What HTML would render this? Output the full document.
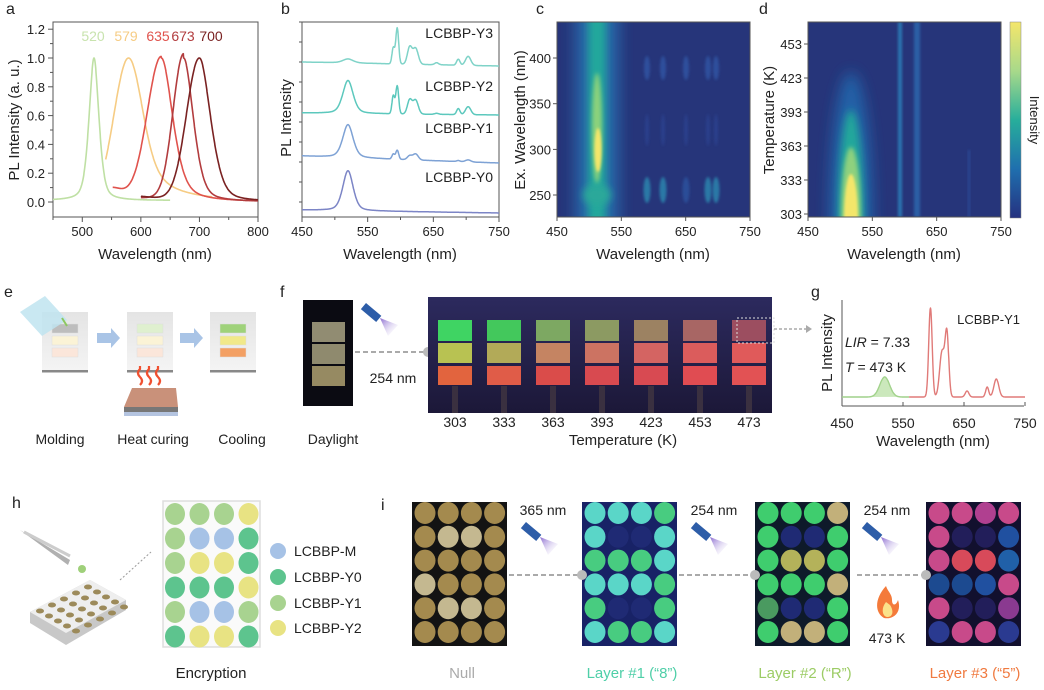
<!DOCTYPE html>
<html><head><meta charset="utf-8"><style>
html,body{margin:0;padding:0;background:#fff;}
svg{display:block;font-family:"Liberation Sans",Arial,sans-serif;}
</style></head><body>
<svg id="s" width="1044" height="690" viewBox="0 0 1044 690" xmlns="http://www.w3.org/2000/svg">
<defs>
<filter id="b2" x="-50%" y="-50%" width="200%" height="200%"><feGaussianBlur stdDeviation="2"/></filter>
<filter id="b4" x="-50%" y="-50%" width="200%" height="200%"><feGaussianBlur stdDeviation="4"/></filter>
<filter id="b7" x="-50%" y="-50%" width="200%" height="200%"><feGaussianBlur stdDeviation="7"/></filter>
<filter id="b1" x="-50%" y="-50%" width="200%" height="200%"><feGaussianBlur stdDeviation="1.2"/></filter>
<clipPath id="cc"><rect x="557" y="22" width="193" height="195"/></clipPath>
<clipPath id="cd"><rect x="808" y="22" width="193" height="195"/></clipPath>
<linearGradient id="cb" x1="0" y1="0" x2="0" y2="1">
<stop offset="0" stop-color="#f4e66b"/><stop offset="0.25" stop-color="#a8d98a"/><stop offset="0.5" stop-color="#27ae9b"/><stop offset="0.75" stop-color="#1f6fae"/><stop offset="1" stop-color="#253180"/></linearGradient>
<linearGradient id="beam" x1="0" y1="0" x2="1" y2="1"><stop offset="0" stop-color="#8a6ad0"/><stop offset="1" stop-color="#ffffff" stop-opacity="0"/></linearGradient>
<linearGradient id="fph" x1="0" y1="0" x2="0" y2="1"><stop offset="0" stop-color="#2c2a5e"/><stop offset="1" stop-color="#1c1838"/></linearGradient>
<linearGradient id="sl" x1="0" y1="0" x2="0" y2="1"><stop offset="0" stop-color="#e4e4e4"/><stop offset="1" stop-color="#f4f4f4"/></linearGradient>
</defs>
<g id="root" font-size="13" fill="#222"></g>
</svg>
<script>
const NS="http://www.w3.org/2000/svg";const R=document.getElementById('root');
function el(t,a,p){const e=document.createElementNS(NS,t);for(const k in a)e.setAttribute(k,a[k]);(p||R).appendChild(e);return e;}
function tx(x,y,s,a){a=a||{};a.x=x;a.y=y;const e=el('text',a);e.textContent=s;return e;}
function path(f,n0,n1,X,Y,col,w){let d='';for(let n=n0;n<=n1;n+=0.5){d+=(d?'L':'M')+X(n).toFixed(1)+','+Y(f(n)).toFixed(1);}el('path',{d:d,fill:'none',stroke:col,'stroke-width':w||1.6,'stroke-linejoin':'round'});}
const G=(n,c,s)=>Math.exp(-(n-c)*(n-c)/(2*s*s));const L=(n,c,g)=>1/(1+((n-c)/g)**2);
function box(x0,y0,x1,y1){el('rect',{x:x0,y:y0,width:x1-x0,height:y1-y0,fill:'none',stroke:'#555','stroke-width':1});}
// ===== panel a
tx(6,14,'a',{'font-size':16});
{const X=n=>53+(n-450)*205/350,Y=v=>202-v*144;
box(53,22,258,217);
for(let n=450;n<=800;n+=50){el('line',{x1:X(n),y1:217,x2:X(n),y2:n%100?220:222,stroke:'#555'});if(n%100==0)tx(X(n),236,n,{'text-anchor':'middle'});}
for(let v=0;v<=1.25;v+=0.1){const y=Y(v);const maj=Math.round(v*10)%2==0;el('line',{x1:53,y1:y,x2:maj?48:50,y2:y,stroke:'#555'});if(maj)tx(45,y+5,v.toFixed(1),{'text-anchor':'end'});}
tx(155,259,'Wavelength (nm)',{'text-anchor':'middle','font-size':15});
tx(0,0,'PL Intensity (a. u.)',{'text-anchor':'middle','font-size':15,transform:'translate(19,120) rotate(-90)'});
path(n=>0.01+0.99*(0.5*G(n,520,9)+0.5*L(n,520,9)),450,650,X,Y,'#bfe0a4');
path(n=>n<579?G(n,579,25):(0.6*G(n,579,22)+0.4*L(n,579,45)),540,722,X,Y,'#f6cc84');
path(n=>n<635?(G(n,635,24)+0.1*L(n,550,30)):(0.5*G(n,635,20)+0.5*L(n,635,22)),552,800,X,Y,'#e0534d');
path(n=>n<673?(G(n,673,18)+0.03):(0.6*G(n,673,17)+0.4*L(n,673,18)),600,800,X,Y,'#b23c3e');
path(n=>n<700?(G(n,700,22)+0.04*(1-(n-600)/100)):(0.6*G(n,700,20)+0.4*L(n,700,20)),600,800,X,Y,'#7a2222');
const lb=[['520',93,'#c8e3ae'],['579',126,'#f6cc84'],['635',158,'#e0534d'],['673',183,'#b23c3e'],['700',211,'#7a2222']];
lb.forEach(l=>tx(l[1],41,l[0],{'text-anchor':'middle','font-size':14,fill:l[2]}));}
// ===== panel b
tx(281,14,'b',{'font-size':16});
{const X=n=>302+(n-450)*197/300;box(302,22,499,217);
for(let n=450;n<=750;n+=50){el('line',{x1:X(n),y1:217,x2:X(n),y2:n%100==50?222:220,stroke:'#555'});if(n%100==50)tx(X(n),236,n,{'text-anchor':'middle'});}
for(let y=22;y<=217;y+=20)el('line',{x1:302,y1:y,x2:299,y2:y,stroke:'#555'});
tx(400,259,'Wavelength (nm)',{'text-anchor':'middle','font-size':15});
tx(0,0,'PL Intensity',{'text-anchor':'middle','font-size':15,transform:'translate(291,118) rotate(-90)'});
const red=(n,a)=>a[0]*G(n,589,2)+a[1]*G(n,595,2.2)+a[2]*G(n,614,3.5)+a[3]*G(n,623,4)+a[4]*G(n,655,3)+a[5]*G(n,688,2.5)+a[6]*G(n,703,4);
const S=[[62,66,4,[16,36,17,16,2,6,9],'#7fd3c8','LCBBP-Y3',38],[113,115,33,[18,28,14,14,1,6,8],'#5cc8bd','LCBBP-Y2',91],[156,163,33,[5,9,4,6,0,1,2],'#7ea2d5','LCBBP-Y1',133],[210,213,40,[0,0,0,0,0,0,0],'#7c85c6','LCBBP-Y0',182]];
S.forEach(s=>{path(n=>s[0]+(s[1]-s[0])*(n-450)/300-s[2]*(0.6*G(n,520,8)+0.4*L(n,520,9))-red(n,s[3]),450,750,X,v=>v,s[4],1.5);tx(493,s[6],s[5],{'text-anchor':'end','font-size':14});});}
// ===== panel c heatmap
tx(536,14,'c',{'font-size':16});
{const g=el('g',{'clip-path':'url(#cc)'});el('rect',{x:557,y:22,width:193,height:195,fill:'#26357a'},g);
el('rect',{x:575,y:0,width:44,height:240,fill:'#2566a8',filter:'url(#b7)'},g);
el('rect',{x:588,y:0,width:18,height:240,fill:'#24a89b',filter:'url(#b4)'},g);
el('ellipse',{cx:597,cy:195,rx:14,ry:10,fill:'#2aa89a',filter:'url(#b4)'},g);
el('ellipse',{cx:597,cy:128,rx:5,ry:55,fill:'#8cd27c',filter:'url(#b2)'},g);
el('ellipse',{cx:598,cy:150,rx:3.5,ry:22,fill:'#f4e66b',filter:'url(#b1)'},g);
[647,663,686,708,716].forEach((x,i)=>{el('ellipse',{cx:x,cy:68,rx:3,ry:12,fill:'#2d4f9c',filter:'url(#b1)'},g);el('ellipse',{cx:x,cy:130,rx:2,ry:16,fill:'#2a3f8c',filter:'url(#b1)'},g);el('ellipse',{cx:x,cy:190,rx:3.5,ry:13,fill:i==2?'#2b4e98':'#2a78a6',filter:'url(#b1)'},g);});
box(557,22,750,217);
[[400,58],[350,103.7],[300,149.4],[250,195]].forEach(t=>{el('line',{x1:557,y1:t[1],x2:553,y2:t[1],stroke:'#555'});tx(551,t[1]+5,t[0],{'text-anchor':'end'});});
[450,550,650,750].forEach((n,i)=>{const x=557+(n-450)*193/300;el('line',{x1:x,y1:217,x2:x,y2:221,stroke:'#555'});tx(x,236,n,{'text-anchor':'middle'});});
tx(653,259,'Wavelength (nm)',{'text-anchor':'middle','font-size':15});
tx(0,0,'Ex. Wavelength (nm)',{'text-anchor':'middle','font-size':15,transform:'translate(525,120) rotate(-90)'});}
// ===== panel d heatmap
tx(759,14,'d',{'font-size':16});
{const g=el('g',{'clip-path':'url(#cd)'});el('rect',{x:808,y:22,width:193,height:195,fill:'#26357a'},g);
el('ellipse',{cx:851,cy:222,rx:22,ry:150,fill:'#2362a8',filter:'url(#b7)'},g);
el('ellipse',{cx:851,cy:222,rx:13,ry:112,fill:'#23a89b',filter:'url(#b4)'},g);
el('ellipse',{cx:851,cy:222,rx:10,ry:75,fill:'#8fd17e',filter:'url(#b2)'},g);
el('ellipse',{cx:851,cy:222,rx:7,ry:48,fill:'#f4e66b',filter:'url(#b1)'},g);
el('rect',{x:898,y:22,width:4,height:195,fill:'#2b75b0',filter:'url(#b1)'},g);
el('rect',{x:914,y:22,width:6,height:195,fill:'#2c5ea6',filter:'url(#b1)'},g);
el('rect',{x:968,y:150,width:2,height:67,fill:'#2c4a96',filter:'url(#b1)'},g);
box(808,22,1001,217);
[453,423,393,363,333,303].forEach(t=>{const y=214-(t-303)*1.1333;el('line',{x1:808,y1:y,x2:804,y2:y,stroke:'#555'});tx(802,y+5,t,{'text-anchor':'end'});});
[450,550,650,750].forEach(n=>{const x=808+(n-450)*193/300;el('line',{x1:x,y1:217,x2:x,y2:221,stroke:'#555'});tx(x,236,n,{'text-anchor':'middle'});});
tx(904,259,'Wavelength (nm)',{'text-anchor':'middle','font-size':15});
tx(0,0,'Temperature (K)',{'text-anchor':'middle','font-size':15,transform:'translate(774,120) rotate(-90)'});
el('rect',{x:1010,y:22,width:11,height:196,fill:'url(#cb)',stroke:'#888','stroke-width':0.5});
tx(0,0,'Intensity',{'text-anchor':'middle','font-size':13,transform:'translate(1030,120) rotate(90)'});}
// ===== panel e
tx(4,297,'e',{'font-size':16});
function slide(x,cols){el('rect',{x:x,y:312,width:46,height:58,fill:'url(#sl)'});el('rect',{x:x,y:370,width:46,height:2.5,fill:'#888'});cols.forEach((c,i)=>el('rect',{x:x+10,y:324+i*12,width:26,height:9,fill:c,stroke:'#ddd','stroke-width':0.5}));}
slide(42,['#bdbdbd','#fbf3d6','#fbe6da']);slide(127,['#dff0cf','#fbf3d6','#fbe6da']);slide(210,['#9fd27a','#f1e98a','#f3a064']);
el('polygon',{points:'20,312 45,296 67,320 42,336',fill:'#bfe4f0',opacity:0.85});
el('path',{d:'M62,318 L67,326',stroke:'#8cc860','stroke-width':2});
[[97,338],[180,338]].forEach(a=>el('polygon',{points:`${a[0]},${a[1]-5} ${a[0]+14},${a[1]-5} ${a[0]+14},${a[1]-10} ${a[0]+23},${a[1]} ${a[0]+14},${a[1]+10} ${a[0]+14},${a[1]+5} ${a[0]},${a[1]+5}`,fill:'#a9c4e6'}));
el('polygon',{points:'132,388 176,388 178,407 124,407',fill:'#c9917a'});el('rect',{x:124,y:407,width:54,height:5,fill:'#777'});el('rect',{x:124,y:412,width:54,height:4,fill:'#b4c4e0'});
[140,149,158].forEach(x=>el('path',{d:`M${x},385 q4,-4 0,-8 q-4,-4 0,-8 l0,-3`,stroke:'#f05030','stroke-width':2.2,fill:'none'}));
tx(60,444,'Molding',{'text-anchor':'middle','font-size':14});tx(153,444,'Heat curing',{'text-anchor':'middle','font-size':14});tx(242,444,'Cooling',{'text-anchor':'middle','font-size':14});
// ===== panel f
tx(280,297,'f',{'font-size':16});
el('rect',{x:303,y:300,width:50,height:106,fill:'#0b0b12'});
['#918c72','#8f8a6e','#968a62'].forEach((c,i)=>el('rect',{x:312,y:322+i*22,width:33,height:20,fill:c}));
tx(333,444,'Daylight',{'text-anchor':'middle','font-size':14});
function lamp(x,y){el('rect',{x:x,y:y,width:20,height:8,fill:'#2d5da8',transform:`rotate(40 ${x} ${y})`});el('polygon',{points:`${x+14},${y+15} ${x+32},${y+22} ${x+22},${y+33}`,fill:'url(#beam)'});}
lamp(366,303);
el('line',{x1:355,y1:352,x2:425,y2:352,stroke:'#aaa','stroke-width':2,'stroke-dasharray':'5,3'});el('circle',{cx:428,cy:352,r:5,fill:'#bbb'});
tx(393,383,'254 nm',{'text-anchor':'middle','font-size':14});
el('rect',{x:428,y:297,width:344,height:116,fill:'url(#fph)'});
const F=[['#3fd463','#43c85c','#7da862','#8c9a62','#9c8262','#a86664','#9c4e60'],['#b8c252','#b2aa58','#c58462','#cc7362','#d46462','#db5c5c','#e05a5a'],['#e2643e','#e05c48','#da4c4a','#d84a50','#d84a52','#e04c52','#e25254']];
[303,333,363,393,423,453,473].forEach((t,i)=>{const cx=455+i*49;for(let r=0;r<3;r++)el('rect',{x:cx-17,y:[320,343,366][r],width:34,height:[21,20,19][r],fill:F[r][i]});el('rect',{x:cx-3,y:386,width:6,height:27,fill:'#3a3040'});tx(cx,427,t,{'text-anchor':'middle','font-size':14});});
el('rect',{x:737,y:318,width:37,height:25,fill:'none',stroke:'#ddd','stroke-dasharray':'2,2'});
el('line',{x1:774,y1:329,x2:806,y2:329,stroke:'#aaa','stroke-width':1.5,'stroke-dasharray':'3,2'});el('polygon',{points:'806,325 812,329 806,333',fill:'#aaa'});
tx(623,445,'Temperature (K)',{'text-anchor':'middle','font-size':15});
// ===== panel g
tx(811,297,'g',{'font-size':16});
{const X=n=>842+(n-450)*183/300;el('line',{x1:842,y1:300,x2:842,y2:406,stroke:'#555'});el('line',{x1:842,y1:406,x2:1024,y2:406,stroke:'#555'});
[450,550,650,750].forEach(n=>{tx(X(n),428,n,{'text-anchor':'middle','font-size':14});el('line',{x1:X(n),y1:406,x2:X(n),y2:402,stroke:'#555'});});
tx(933,446,'Wavelength (nm)',{'text-anchor':'middle','font-size':15});
tx(0,0,'PL Intensity',{'text-anchor':'middle','font-size':15,transform:'translate(832,353) rotate(-90)'});
tx(1020,324,'LCBBP-Y1',{'text-anchor':'end','font-size':13});
const li=tx(845,347,'',{'font-size':14});li.innerHTML='<tspan font-style="italic">LIR</tspan> = 7.33';
const tt=tx(845,372,'',{'font-size':14});tt.innerHTML='<tspan font-style="italic">T</tspan> = 473 K';
const f=n=>397-20*G(n,520,8)-89*G(n,595,2.8)-45*G(n,614,4)-62*G(n,622,3)-6*G(n,655,3)-10*G(n,688,2.5)-18*G(n,703,4);
path(f,450,560,X,v=>v,'#9fd08a',1.4);path(f,560,750,X,v=>v,'#e07a78',1.4);
let d='M'+X(495)+',397';for(let n=495;n<=545;n++)d+='L'+X(n)+','+f(n);d+='Z';el('path',{d:d,fill:'#a9d88f',opacity:0.6});}
// ===== panel h
tx(12,508,'h',{'font-size':16});
el('path',{d:'M30,612 L90,580 L126,600 L126,610 L66,645 L30,623 Z',fill:'#c8c8c8'});el('path',{d:'M30,612 L90,580 L126,600 L66,633 Z',fill:'#eee'});
for(let i=0;i<5;i++)for(let j=0;j<5;j++){el('ellipse',{cx:40+i*12+j*9,cy:611-i*6+j*5,rx:4,ry:2.5,fill:'#9c8a5a'});}
el('path',{d:'M20,530 L68,565 L70,560 Z',fill:'#b0b0b0'});el('path',{d:'M24,532 L70,556',stroke:'#ccc','stroke-width':3});el('circle',{cx:82,cy:569,r:4,fill:'#9fd07a'});
el('line',{x1:120,y1:580,x2:151,y2:552,stroke:'#999','stroke-dasharray':'2,2'});
el('rect',{x:163,y:501,width:97,height:146,fill:'#fafafa',stroke:'#ddd','stroke-width':1.5});
const cM='#a6c2e6',c0='#5dc48e',c1='#a8d390',c2='#e8e383';
const H=[[c1,c1,c1,c2],[c1,cM,cM,c0],[c1,c2,c2,c0],[c0,c0,c0,c2],[c1,cM,cM,c1],[c0,c2,c2,c0]];
H.forEach((r,i)=>r.forEach((c,j)=>el('ellipse',{cx:175+j*24.5,cy:514+i*24.5,rx:10,ry:11,fill:c})));
[[cM,'LCBBP-M',556],[c0,'LCBBP-Y0',582],[c1,'LCBBP-Y1',608],[c2,'LCBBP-Y2',633]].forEach(l=>{el('circle',{cx:278,cy:l[2]-5,r:8,fill:l[0]});tx(294,l[2],l[1],{'font-size':14});});
tx(211,678,'Encryption',{'text-anchor':'middle','font-size':15});
// ===== panel i
tx(381,510,'i',{'font-size':16});
function photo(x0,bg,grid){el('rect',{x:x0,y:502,width:95,height:144,fill:bg});grid.forEach((r,i)=>r.forEach((c,j)=>{if(c)el('ellipse',{cx:x0+13+j*23.2,cy:513+i*23.8,rx:10.5,ry:11,fill:c});}));}
const gd='#a48a4e',gl='#c4b890';
photo(412,'#131313',[[gd,gd,gd,gd],[gd,gl,gl,gd],[gd,gd,gd,gd],[gl,gd,gd,gd],[gd,gl,gl,gd],[gd,gd,gd,gd]]);
const T='#5ad6c8',Gg='#48cc80',N='#1f2a74';
photo(582,'#182266',[[T,T,T,Gg],[T,N,N,T],[Gg,Gg,Gg,T],[T,T,T,Gg],[Gg,N,N,Gg],[T,Gg,Gg,T]]);
const g2='#3fcd6e',y2='#b4b25a',b2='#c2b07a';
photo(755,'#0e1a2a',[[g2,g2,g2,b2],[g2,N,N,g2],[g2,y2,y2,g2],[g2,g2,g2,b2],['#4a9a60',N,N,g2],[g2,b2,b2,g2]]);
const P='#c84a8a',B='#1f3a86',Rr='#d84a5a';
photo(926,'#12102e',[[P,P,'#b04090',P],[P,'#221e5a','#221e5a','#2050a0'],[P,Rr,Rr,'#2060a8'],['#1c4a90','#1c4a90','#2050a0',P],[P,'#221e5a','#221e5a','#8a3a90'],['#2a3a90',P,P,'#2a3a90']]);
[[507,582,575],[677,755,575],[855,926,575]].forEach(a=>{el('line',{x1:a[0]+2,y1:a[2],x2:a[1]-4,y2:a[2],stroke:'#aaa','stroke-width':2,'stroke-dasharray':'5,3'});el('circle',{cx:a[1],cy:a[2],r:5,fill:'#bbb'});});
tx(543,515,'365 nm',{'text-anchor':'middle','font-size':14});tx(714,515,'254 nm',{'text-anchor':'middle','font-size':14});tx(887,515,'254 nm',{'text-anchor':'middle','font-size':14});
lamp(526,522);lamp(696,522);lamp(867,522);
el('path',{d:'M886,586 C875,598 874,612 884,618 C894,620 902,612 898,600 C896,606 892,606 892,600 C892,594 888,592 886,586 Z',fill:'#f47a3a'});
el('path',{d:'M886,602 C881,608 882,616 887,617 C893,617 894,611 890,605 Z',fill:'#fbe28a'});
tx(887,643,'473 K',{'text-anchor':'middle','font-size':14});
tx(462,678,'Null',{'text-anchor':'middle','font-size':15,fill:'#aaa'});
tx(632,678,'Layer #1 (“8”)',{'text-anchor':'middle','font-size':15,fill:'#4fcfa8'});
tx(805,678,'Layer #2 (“R”)',{'text-anchor':'middle','font-size':15,fill:'#9ccc65'});
tx(975,678,'Layer #3 (“5”)',{'text-anchor':'middle','font-size':15,fill:'#f07a40'});
</script>
</body></html>
